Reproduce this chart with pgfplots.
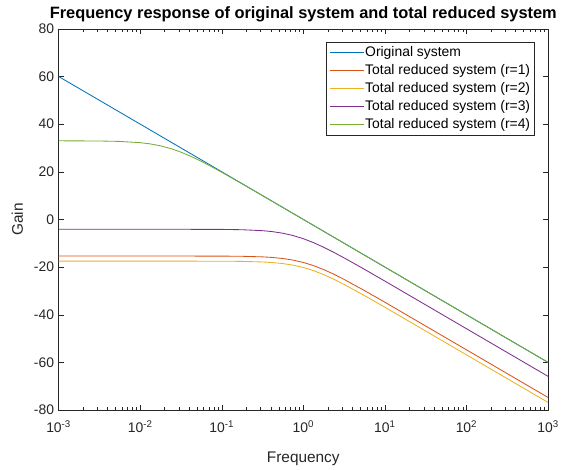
\documentclass[border=0pt]{standalone}
\usepackage{pgfplots}
\pgfplotsset{compat=1.18}
\usepackage{fontspec}
\setmainfont{Liberation Sans}
\definecolor{c1}{rgb}{0,0.447,0.741}
\definecolor{c2}{rgb}{0.850,0.325,0.098}
\definecolor{c3}{rgb}{0.929,0.694,0.125}
\definecolor{c4}{rgb}{0.494,0.184,0.556}
\definecolor{c5}{rgb}{0.466,0.674,0.188}
\definecolor{axgray}{rgb}{0.15,0.15,0.15}
\begin{document}
\begin{tikzpicture}
\begin{semilogxaxis}[name=ax,width=493pt,height=384pt,scale only axis,
  xmin=1e-3,xmax=1e3,ymin=-80,ymax=80,
  ytick={-80,-60,...,80},
  xtick={1e-3,1e-2,1e-1,1,1e1,1e2,1e3},
  xticklabels={10\textsuperscript{-3},10\textsuperscript{-2},10\textsuperscript{-1},10\textsuperscript{0},10\textsuperscript{1},10\textsuperscript{2},10\textsuperscript{3}},
  tick align=inside,tick pos=both,
  major tick length=5pt,minor tick length=3pt,
  axis line style={axgray},every tick/.style={axgray},
  tick label style={font=\fontsize{14}{16}\selectfont,text=axgray},
  xticklabel style={yshift=-7pt},
  yticklabel style={xshift=-1pt},
  /pgf/number format/assume math mode=true,
  xlabel={Frequency},ylabel={Gain},
  every axis x label/.style={at={(axis description cs:0.5,-0.138)},anchor=base,
    font=\fontsize{15.5}{18}\selectfont,text=axgray},
  every axis y label/.style={at={(axis description cs:-0.084,0.5)},anchor=center,rotate=90,
    font=\fontsize{15.5}{18}\selectfont,text=axgray},
  title={\textbf{Frequency response of original system and total reduced system}},
  every axis title/.style={at={(axis description cs:0.5,1.026)},anchor=base,font=\fontsize{16.5}{19}\selectfont},
  legend style={at={(0.972,0.966)},anchor=north east,draw=axgray,
    font=\fontsize{14}{16}\selectfont,row sep=4.6pt,inner xsep=3pt,inner ysep=3.5pt,
    nodes={inner sep=1pt}},
  legend cell align=left,
  legend image code/.code={\draw[#1,line width=0.9pt] (0pt,0pt) -- (34pt,0pt);},
  every axis plot/.append style={line width=0.85pt},
]
\addplot[c1] coordinates {(1e-3,60) (1e3,-60)};
\addlegendentry{Original system}
\addplot[c2] coordinates {(1e-3,-15.37) (1e-2,-15.37) (0.1,-15.40) (0.178,-15.48) (0.316,-15.72) (0.42,-15.98) (0.562,-16.41) (0.75,-17.08) (1,-18.06) (1.33,-19.38) (1.78,-21.06) (2.37,-23.01) (3.16,-25.18) (5.62,-29.86) (10,-34.75) (1e3,-74.7)};
\addlegendentry{Total reduced system (r=1)}
\addplot[c3] coordinates {(1e-3,-17.5) (1e-2,-17.5) (0.1,-17.54) (0.178,-17.62) (0.316,-17.86) (0.42,-18.11) (0.562,-18.54) (0.75,-19.20) (1,-20.18) (1.33,-21.49) (1.78,-23.17) (2.37,-25.12) (3.16,-27.28) (5.62,-31.96) (10,-36.85) (1e3,-76.8)};
\addlegendentry{Total reduced system (r=2)}
\addplot[c4] coordinates {(1e-3,-4.12) (1e-2,-4.12) (0.1,-4.19) (0.178,-4.33) (0.316,-4.73) (0.42,-5.14) (0.562,-5.80) (0.75,-6.77) (1,-8.08) (1.33,-9.73) (1.78,-11.69) (2.37,-13.84) (3.16,-16.13) (5.62,-20.94) (10,-25.88) (1e3,-65.85)};
\addlegendentry{Total reduced system (r=3)}
\addplot[c5] coordinates {(1e-3,32.99) (3.16e-3,32.91) (5.62e-3,32.73) (1e-2,32.21) (1.33e-2,31.69) (1.78e-2,30.88) (2.37e-2,29.73) (3.16e-2,28.24) (4.2e-2,26.45) (5.62e-2,24.37) (7.5e-2,22.13) (0.1,19.79) (0.178,14.93) (0.316,9.98) (1,0) (1e3,-60)};
\addlegendentry{Total reduced system (r=4)}
\end{semilogxaxis}
\path ([xshift=-59pt,yshift=-56pt]ax.south west) rectangle ([xshift=10pt,yshift=29pt]ax.north east);
\end{tikzpicture}
\end{document}
